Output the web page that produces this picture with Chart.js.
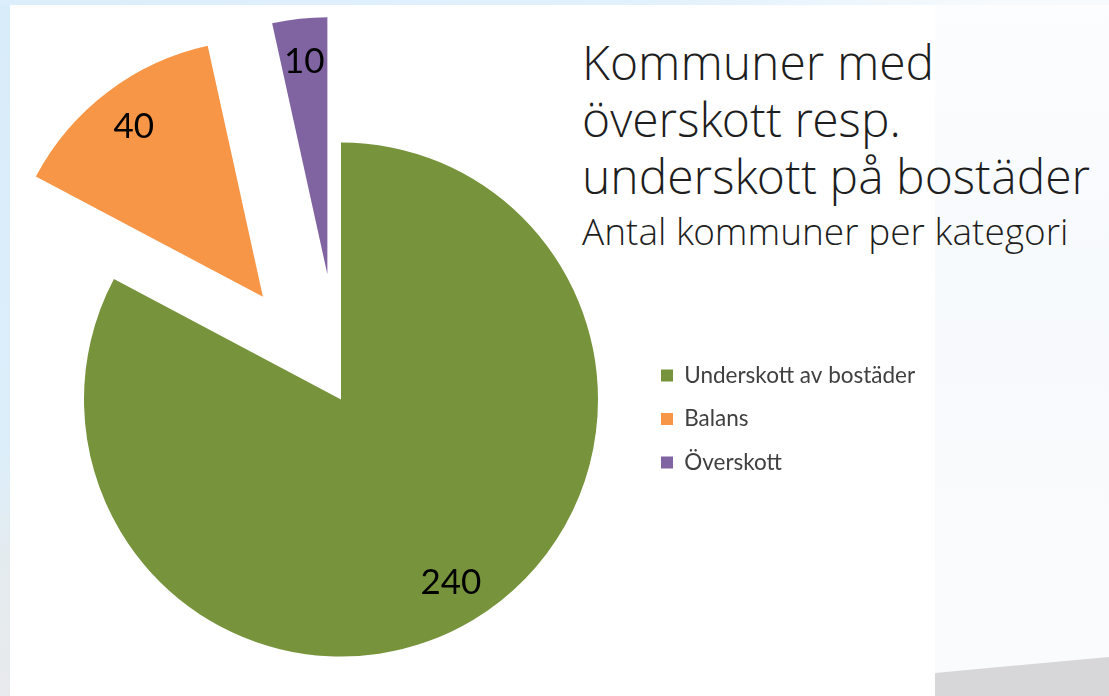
<!DOCTYPE html>
<html>
<head>
<meta charset="utf-8">
<script src="https://cdn.jsdelivr.net/npm/chart.js@4/dist/chart.umd.min.js"></script>
<style>
  html, body { margin: 0; padding: 0; width: 1109px; height: 696px; overflow: hidden; }
  body {
    position: relative;
    background: linear-gradient(180deg, #d9ecfa 0%, #dceefa 65%, #e4ebef 80%, #e8eaec 100%);
  }
  #topStrip {
    position: absolute; left: 0; top: 0; width: 1109px; height: 5px;
    background: linear-gradient(90deg, #dcedfb 0%, #e2f1fc 60%, #f6fafd 90%, #f8fbfd 100%);
  }
  #rightSide {
    position: absolute; left: 935px; top: 5px; width: 174px; height: 691px;
    background: linear-gradient(180deg, #fbfdfe 0%, #f7fafc 40%, #f9fbfc 90%);
  }
  #rightSide::after {
    content: ""; position: absolute; left: 0; right: 0; bottom: 0; height: 45px;
    background: #d7d7da;
    clip-path: polygon(0 22px, 100% 6px, 100% 100%, 0 100%);
  }
  #panel { position: absolute; left: 10px; top: 5px; width: 925px; height: 691px; background: #ffffff; }
  #title {
    position: absolute; left: 582px; top: 33px; color: #1e1e1e;
    font-family: "Open Sans Light", "Open Sans", sans-serif; font-weight: 300;
  }
  #title .main { font-size: 48px; line-height: 57px; white-space: nowrap; }
  #title .sub { font-size: 37px; line-height: 42px; white-space: nowrap; margin-top: 6px; }
  #chart { position: absolute; left: 0; top: 0; }
</style>
</head>
<body>
<div id="topStrip"></div>
<div id="rightSide"></div>
<div id="panel"></div>
<div id="title">
  <div class="main">Kommuner med<br>överskott resp.<br>underskott på bostäder</div>
  <div class="sub">Antal kommuner per kategori</div>
</div>
<canvas id="chart" width="1109" height="696"></canvas>
<script>
const categories = ['Underskott av bostäder', 'Balans', 'Överskott'];
const counts = [240, 40, 10];

const sliceColors = ['#77933C', '#F79646', '#8064A2'];
const explodeBy = [0, 129, 126];   // how far each slice is pulled out

const legendFont = { family: 'Lato', size: 22.5 };
const legendPad = 21;
const legendBox = 12;

// measure the widest legend label so the legend sits where the original one does
const measure = document.createElement('canvas').getContext('2d');
measure.font = legendFont.size + 'px ' + legendFont.family;
const widest = Math.max(...categories.map(t => measure.measureText(t).width));
const legendWidth = legendPad + legendBox + legendFont.size / 2 + widest + 10;
const rightPad = 1109 - 640 - legendWidth;

// draw exploded slices by moving each one out along its middle angle
const explodePlugin = {
  id: 'explode',
  beforeDatasetDraw(chart, args) {
    const ctx = chart.ctx;
    args.meta.data.forEach((arc, i) => {
      const mid = (arc.startAngle + arc.endAngle) / 2;
      const d = explodeBy[i] || 0;
      ctx.save();
      ctx.translate(Math.cos(mid) * d, Math.sin(mid) * d);
      arc.draw(ctx);
      ctx.restore();
    });
    return false;
  }
};

const valueLabels = {
  id: 'valueLabels',
  afterDatasetsDraw(chart) {
    const ctx = chart.ctx;
    const meta = chart.getDatasetMeta(0);
    ctx.save();
    ctx.font = '35px Lato';
    ctx.fillStyle = '#000000';
    ctx.textAlign = 'center';
    ctx.textBaseline = 'middle';
    meta.data.forEach((arc, i) => {
      const mid = (arc.startAngle + arc.endAngle) / 2;
      const dist = (explodeBy[i] || 0) + arc.outerRadius * 0.83;
      ctx.fillText(String(counts[i]), arc.x + Math.cos(mid) * dist, arc.y + Math.sin(mid) * dist);
    });
    ctx.restore();
  }
};

new Chart(document.getElementById('chart'), {
  type: 'pie',
  data: {
    labels: categories,
    datasets: [{
      data: counts,
      backgroundColor: sliceColors,
      borderWidth: 0,
      radius: 257,
      clip: false
    }]
  },
  options: {
    responsive: false,
    animation: false,
    layout: { padding: { left: 42, right: rightPad, top: 203, bottom: 100 } },
    plugins: {
      tooltip: { enabled: false },
      legend: {
        position: 'right',
        align: 'center',
        title: { display: true, text: '', padding: { top: 38, bottom: 0 }, font: { size: 1, lineHeight: 1 } },
        labels: {
          boxWidth: legendBox,
          boxHeight: legendBox,
          padding: legendPad,
          color: '#404040',
          font: legendFont
        }
      }
    }
  },
  plugins: [explodePlugin, valueLabels]
});
</script>
</body>
</html>
